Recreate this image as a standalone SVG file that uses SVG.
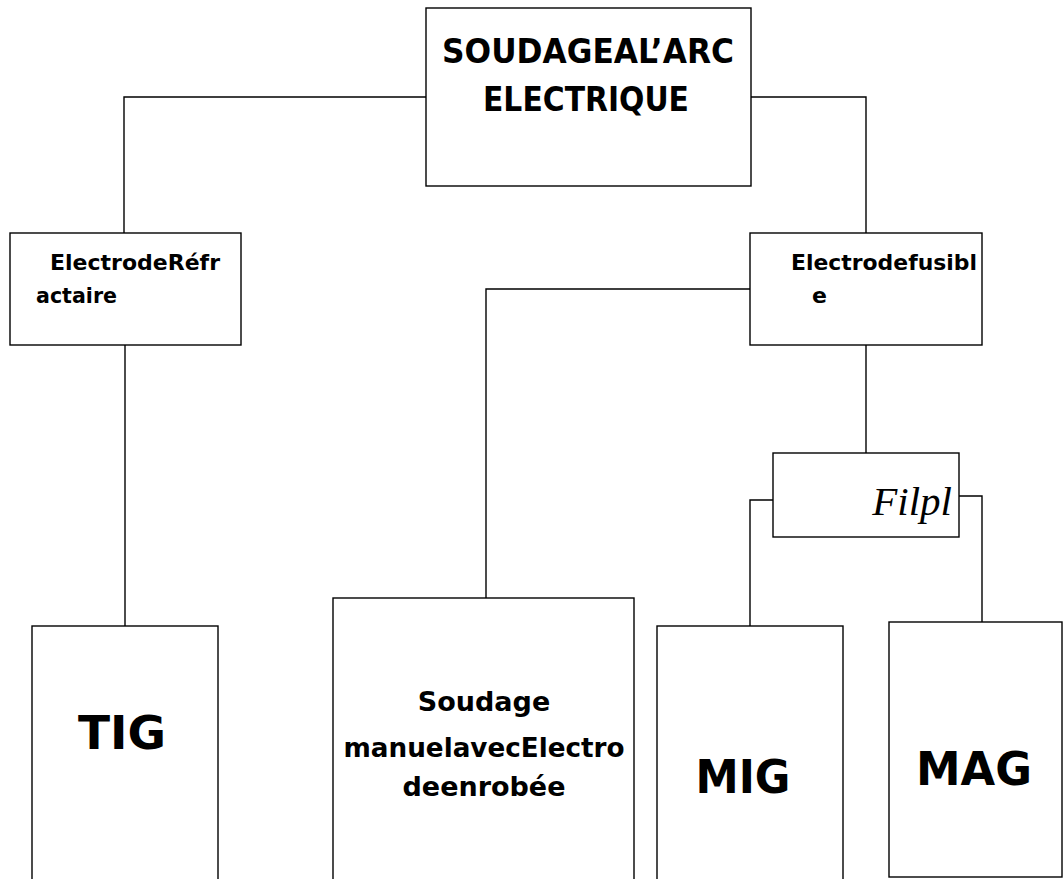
<svg xmlns="http://www.w3.org/2000/svg" width="1063" height="879" viewBox="0 0 1063 879">
<style>
.box{fill:#fff;stroke:#000;stroke-width:1.4}
.ln{fill:none;stroke:#000;stroke-width:1.4}
.t{font-family:"DejaVu Sans","Liberation Sans",sans-serif;font-weight:bold;fill:#000}
.it{font-family:"Liberation Serif","Times New Roman",serif;font-style:italic;fill:#000}
</style>
<rect width="1063" height="879" fill="#fff"/>
<g id="connectors">
<polyline class="ln" points="426,97 124,97 124,233"/>
<polyline class="ln" points="751,97 866,97 866,233"/>
<line class="ln" x1="125" y1="345" x2="125" y2="626"/>
<polyline class="ln" points="750,289 486,289 486,598"/>
<line class="ln" x1="866" y1="345" x2="866" y2="456"/>
<polyline class="ln" points="773,500 750,500 750,626"/>
<polyline class="ln" points="959,496 982,496 982,622"/>
<circle cx="826" cy="535.5" r="1.3" fill="#000"/>
</g>
<g id="root">
<rect class="box" x="426" y="8" width="325" height="178"/>
<text class="t" x="588" y="63" font-size="33" text-anchor="middle" textLength="292" lengthAdjust="spacingAndGlyphs">SOUDAGEAL’ARC</text>
<text class="t" x="586" y="111" font-size="33" text-anchor="middle" textLength="206" lengthAdjust="spacingAndGlyphs">ELECTRIQUE</text>
</g>
<g id="refractaire">
<rect class="box" x="10" y="233" width="231" height="112"/>
<text class="t" x="50" y="270" font-size="22" textLength="170" lengthAdjust="spacingAndGlyphs">ElectrodeRéfr</text>
<text class="t" x="36" y="303" font-size="22" textLength="81" lengthAdjust="spacingAndGlyphs">actaire</text>
</g>
<g id="fusible">
<rect class="box" x="750" y="233" width="232" height="112"/>
<text class="t" x="791" y="270" font-size="22" textLength="186" lengthAdjust="spacingAndGlyphs">Electrodefusibl</text>
<text class="t" x="812" y="303" font-size="22">e</text>
</g>
<g id="filpl">
<rect class="box" x="773" y="453" width="186" height="84"/>
<text class="it" x="952" y="515" font-size="41" text-anchor="end">Filpl</text>
</g>
<g id="tig">
<rect class="box" x="32" y="626" width="186" height="260"/>
<text class="t" x="122" y="749" font-size="47" text-anchor="middle" textLength="88" lengthAdjust="spacingAndGlyphs">TIG</text>
</g>
<g id="soudage">
<rect class="box" x="333" y="598" width="301" height="290"/>
<text class="t" x="484" y="711" font-size="27" text-anchor="middle">Soudage</text>
<text class="t" x="484" y="757" font-size="27" text-anchor="middle" textLength="281" lengthAdjust="spacingAndGlyphs">manuelavecElectro</text>
<text class="t" x="484" y="796" font-size="27" text-anchor="middle">deenrobée</text>
</g>
<g id="mig">
<rect class="box" x="657" y="626" width="186" height="260"/>
<text class="t" x="743" y="793" font-size="47" text-anchor="middle" textLength="95" lengthAdjust="spacingAndGlyphs">MIG</text>
</g>
<g id="mag">
<rect class="box" x="889" y="622" width="173" height="255"/>
<text class="t" x="974" y="785" font-size="47" text-anchor="middle" textLength="116" lengthAdjust="spacingAndGlyphs">MAG</text>
</g>
</svg>
